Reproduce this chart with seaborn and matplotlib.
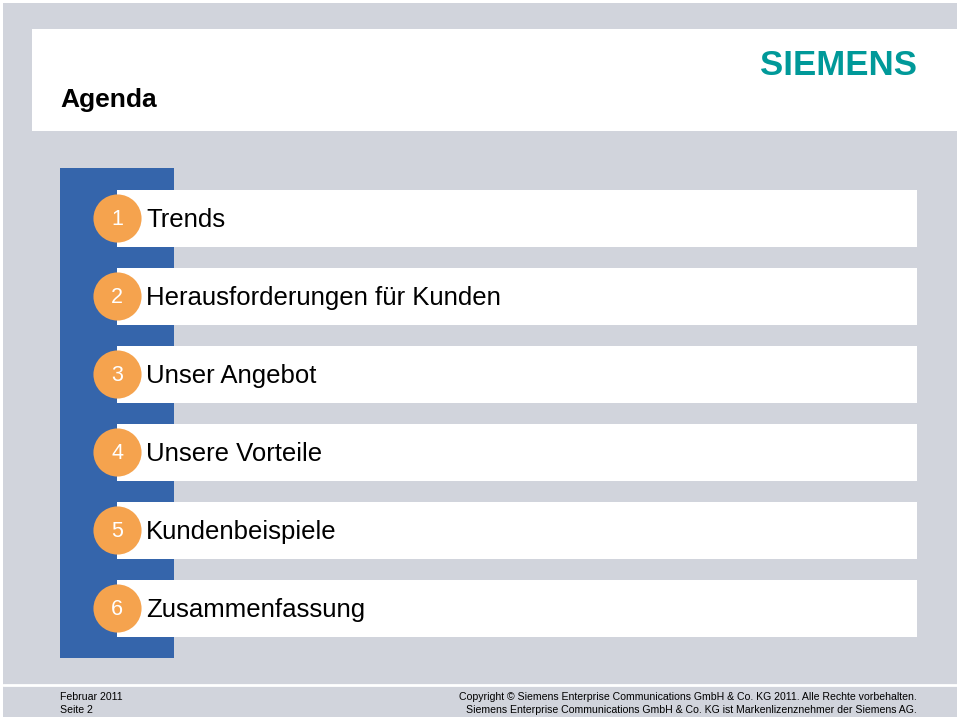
import numpy as np
import pandas as pd
import matplotlib
matplotlib.use('Agg')
import matplotlib.pyplot as plt
import seaborn as sns

# agenda content
item_numbers = ['1', '2', '3', '4', '5', '6']
item_labels = ['Trends', 'Herausforderungen für Kunden', 'Unser Angebot',
               'Unsere Vorteile', 'Kundenbeispiele', 'Zusammenfassung']
title_text = 'Agenda'
logo_text = 'SIEMENS'
footer_left = ['Februar 2011', 'Seite 2']
footer_right = ['Copyright © Siemens Enterprise Communications GmbH & Co. KG 2011. Alle Rechte vorbehalten.',
                'Siemens Enterprise Communications GmbH & Co. KG ist Markenlizenznehmer der Siemens AG.']

GREY = '#d1d4dc'
BLUE = '#3565ab'
ORANGE = '#f5a34e'
TEAL = '#009999'

sns.set_theme(style='white')
plt.rcParams['font.family'] = ['Liberation Sans', 'DejaVu Sans']
plt.rcParams['text.color'] = 'black'

fig = plt.figure(figsize=(9.6, 7.2), dpi=100)
ax = fig.add_axes([0, 0, 1, 1])

# slide background and header
ax.add_patch(plt.Rectangle((3, 3), 954, 714, color=GREY, lw=0, zorder=0))
ax.add_patch(plt.Rectangle((32, 29), 928, 102, color='white', lw=0, zorder=1))
ax.plot([3, 957], [684.5, 684.5], color='white', lw=2, zorder=1)

# blue side bar
ax.bar(117, 490, width=114, bottom=168, color=BLUE, lw=0, zorder=1)

# white agenda rows
df = pd.DataFrame({'num': item_numbers, 'label': item_labels})
df['y'] = 218 + 78 * np.arange(len(df))
ax.barh(df['y'], 800, left=117, height=57, color='white', lw=0, zorder=2)

# orange circles
df['cx'] = 117
sns.scatterplot(data=df, x='cx', y='y', s=1200, color=ORANGE, linewidth=0,
                ax=ax, zorder=3, legend=False)
ax.set_xlim(0, 960)
ax.set_ylim(720, 0)
ax.axis('off')

for _, r in df.iterrows():
    ax.text(r['cx'], r['y'] + 7, r['num'], color='white', fontsize=15.5,
            ha='center', va='baseline', zorder=4)
    ax.text(146, r['y'] + 9, r['label'], color='black', fontsize=18.5,
            ha='left', va='baseline', zorder=4)

# header texts
ax.text(60, 107, title_text, fontsize=19, fontweight='bold', color='black',
        ha='left', va='baseline', zorder=4)
ax.text(917, 75, logo_text, fontsize=25, fontweight='bold', color=TEAL,
        ha='right', va='baseline', zorder=4)

# footer
for i, t in enumerate(footer_left):
    ax.text(60, 700 + 13 * i, t, fontsize=7.6, color='black', ha='left', va='baseline', zorder=4)
for i, t in enumerate(footer_right):
    ax.text(917, 700 + 13 * i, t, fontsize=7.6, color='black', ha='right', va='baseline', zorder=4)

fig.savefig('out.png', dpi=100, facecolor='white')
